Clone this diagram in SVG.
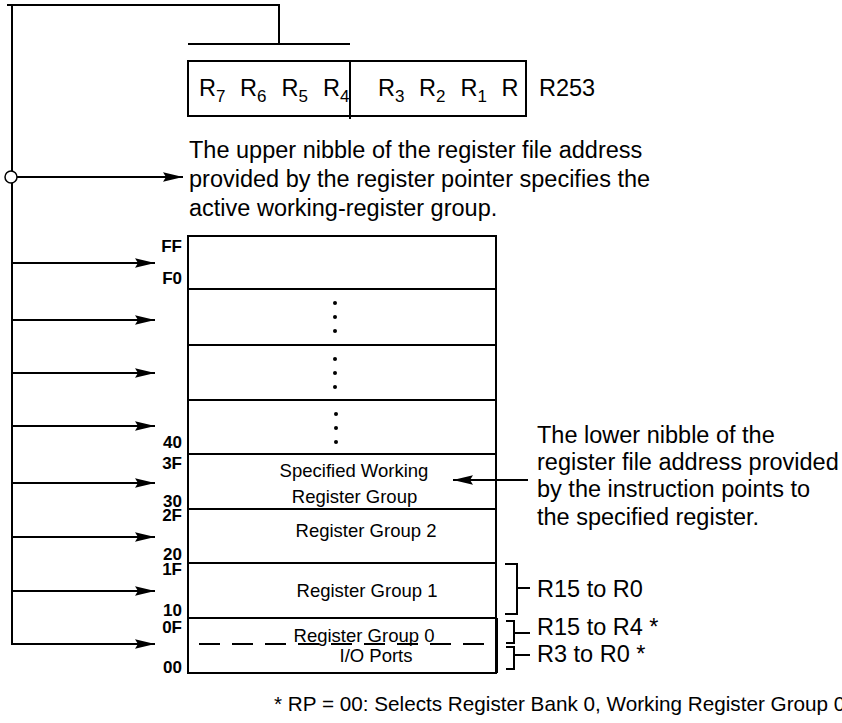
<svg xmlns="http://www.w3.org/2000/svg" width="842" height="723" viewBox="0 0 842 723">
<defs>
<marker id="ah" markerUnits="userSpaceOnUse" markerWidth="22" markerHeight="12" viewBox="0 -6 22 12" refX="20" refY="0" orient="auto">
<path d="M20,0 L0,-4.8 L3,0 L0,4.8 Z" fill="#000"/>
</marker>
</defs>
<style>
text{font-family:"Liberation Sans",Arial,sans-serif;fill:#000}
.body{font-size:23.5px}
.foot{font-size:20.7px}
.sub{font-size:17px}
.addr{font-size:17px;font-weight:bold;text-anchor:end}
.row{font-size:18.5px;text-anchor:middle}
.ln{stroke:#000;stroke-width:2;fill:none}
.cn{stroke:#000;stroke-width:2;fill:none;marker-end:url(#ah)}
.dot{fill:#000}
</style>
<rect width="842" height="723" fill="#fff"/>

<g id="register-pointer">
<rect class="ln" x="188" y="61" width="338" height="55"/>
<line class="ln" x1="350" y1="61" x2="350" y2="119"/>
<text class="body" x="199" y="96">R<tspan class="sub" dy="6">7</tspan></text>
<text class="body" x="240" y="96">R<tspan class="sub" dy="6">6</tspan></text>
<text class="body" x="281.5" y="96">R<tspan class="sub" dy="6">5</tspan></text>
<text class="body" x="323" y="96">R<tspan class="sub" dy="6">4</tspan></text>
<text class="body" x="378" y="96">R<tspan class="sub" dy="6">3</tspan></text>
<text class="body" x="419" y="96">R<tspan class="sub" dy="6">2</tspan></text>
<text class="body" x="460.5" y="96">R<tspan class="sub" dy="6">1</tspan></text>
<text class="body" x="501.5" y="96">R</text>
<text class="body" x="539" y="96">R253</text>
</g>

<g id="upper-nibble-note">
<text class="body" x="189" y="158">The upper nibble of the register file address</text>
<text class="body" x="189" y="187">provided by the register pointer specifies the</text>
<text class="body" x="189" y="216">active working-register group.</text>
</g>

<g id="memory-map">
<rect class="ln" x="188" y="236" width="308" height="437"/>
<line class="ln" x1="188" y1="289" x2="496" y2="289"/>
<line class="ln" x1="188" y1="345" x2="496" y2="345"/>
<line class="ln" x1="188" y1="400" x2="496" y2="400"/>
<line class="ln" x1="188" y1="454" x2="496" y2="454"/>
<line class="ln" x1="188" y1="509" x2="496" y2="509"/>
<line class="ln" x1="188" y1="563" x2="496" y2="563"/>
<line class="ln" x1="188" y1="618" x2="497" y2="618"/>
<line class="ln" x1="497" y1="618" x2="497" y2="673"/>
<line x1="199" y1="644" x2="496" y2="644" stroke="#000" stroke-width="2" stroke-dasharray="21 12"/>
<g id="dots">
<circle class="dot" cx="335" cy="303" r="2"/><circle class="dot" cx="335" cy="317" r="2"/><circle class="dot" cx="335" cy="331" r="2"/>
<circle class="dot" cx="335" cy="359" r="2"/><circle class="dot" cx="335" cy="373" r="2"/><circle class="dot" cx="335" cy="387" r="2"/>
<circle class="dot" cx="336" cy="414" r="2"/><circle class="dot" cx="336" cy="428" r="2"/><circle class="dot" cx="336" cy="442" r="2"/>
</g>
<text class="row" x="354" y="477">Specified Working</text>
<text class="row" x="354.5" y="503">Register Group</text>
<text class="row" x="366" y="537">Register Group 2</text>
<text class="row" x="367" y="597">Register Group 1</text>
<text class="row" x="364" y="642">Register Group 0</text>
<text class="row" x="376" y="662">I/O Ports</text>
</g>

<g id="addresses">
<text class="addr" x="182" y="252">FF</text>
<text class="addr" x="182" y="284">F0</text>
<text class="addr" x="182" y="448">40</text>
<text class="addr" x="182" y="469">3F</text>
<text class="addr" x="182" y="507">30</text>
<text class="addr" x="182" y="521">2F</text>
<text class="addr" x="182" y="560">20</text>
<text class="addr" x="182" y="575">1F</text>
<text class="addr" x="182" y="616">10</text>
<text class="addr" x="182" y="633">0F</text>
<text class="addr" x="182" y="673">00</text>
</g>

<g id="lower-nibble-note">
<text class="body" x="537" y="443">The lower nibble of the</text>
<text class="body" x="537" y="470">register file address provided</text>
<text class="body" x="537" y="497">by the instruction points to</text>
<text class="body" x="537" y="525">the specified register.</text>
</g>

<g id="brackets">
<path class="ln" d="M505,564 H517 V614 H505 M517,588 H530"/>
<path class="ln" d="M506,621 H514 V643 H506 M514,633 H530"/>
<path class="ln" d="M506,647 H514 V669 H506 M514,655 H530"/>
<text class="body" x="537" y="597">R15 to R0</text>
<text class="body" x="537" y="635">R15 to R4 *</text>
<text class="body" x="537" y="662">R3 to R0 *</text>
</g>

<g id="footnote">
<text class="foot" x="274" y="711">* RP = 00: Selects Register Bank 0, Working Register Group 0</text>
</g>

<g id="connectors">
<path class="ln" d="M7,5 H279 V44"/>
<line class="ln" x1="188" y1="44" x2="350" y2="44"/>
<line class="ln" x1="12" y1="5" x2="12" y2="645"/>
<line class="cn" x1="17" y1="177" x2="183" y2="177"/>
<circle cx="11" cy="177" r="6" fill="#fff" stroke="#000" stroke-width="1.5"/>
<line class="cn" x1="12" y1="263" x2="155" y2="263"/>
<line class="cn" x1="12" y1="320" x2="155" y2="320"/>
<line class="cn" x1="12" y1="373" x2="155" y2="373"/>
<line class="cn" x1="12" y1="426" x2="155" y2="426"/>
<line class="cn" x1="12" y1="483" x2="155" y2="483"/>
<line class="cn" x1="12" y1="537" x2="155" y2="537"/>
<line class="cn" x1="12" y1="591" x2="155" y2="591"/>
<line class="cn" x1="11" y1="644" x2="155" y2="644"/>
<line class="cn" x1="528" y1="480" x2="453" y2="480"/>
</g>
</svg>
